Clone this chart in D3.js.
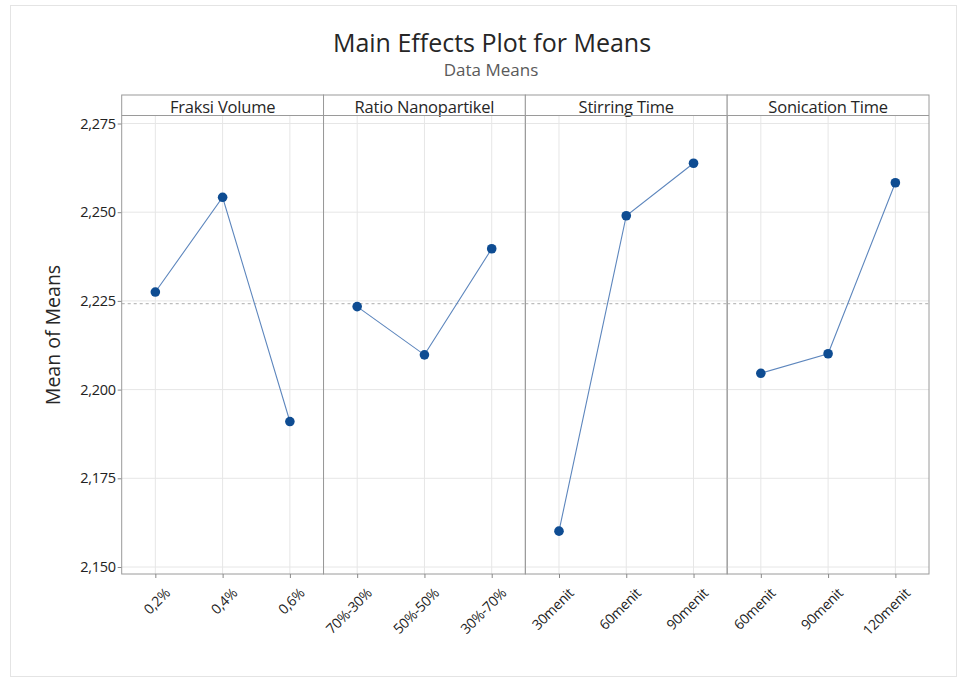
<!DOCTYPE html>
<html>
<head>
<meta charset="utf-8">
<script src="https://cdn.jsdelivr.net/npm/d3@7"></script>
<style>
  html, body { margin: 0; padding: 0; background: #fff; }
  svg { display: block; font-family: "Open Sans", "Noto Sans", sans-serif; }
</style>
</head>
<body>
<svg id="chart" width="965" height="682"></svg>
<script>
// Factors and their level labels
const factors = ["Fraksi Volume", "Ratio Nanopartikel", "Stirring Time", "Sonication Time"];
const fraksiLevels = ["0,2%", "0,4%", "0,6%"];
const ratioLevels = ["70%-30%", "50%-50%", "30%-70%"];
const stirringLevels = ["30menit", "60menit", "90menit"];
const sonicationLevels = ["60menit", "90menit", "120menit"];

// Mean of means per level
const fraksiMeans = [2.2275, 2.2542, 2.1910];
const ratioMeans = [2.2234, 2.2098, 2.2397];
const stirringMeans = [2.1601, 2.2490, 2.2638];
const sonicationMeans = [2.2046, 2.2101, 2.2583];

const yTicks = [2.150, 2.175, 2.200, 2.225, 2.250, 2.275];

const panels = [
  { name: factors[0], levels: fraksiLevels, means: fraksiMeans },
  { name: factors[1], levels: ratioLevels, means: ratioMeans },
  { name: factors[2], levels: stirringLevels, means: stirringMeans },
  { name: factors[3], levels: sonicationLevels, means: sonicationMeans }
];

// Grand mean across all observations (reference line)
const grandMean = d3.mean(fraksiMeans);

const svg = d3.select("#chart");

const plot = { left: 121.7, right: 929, top: 95, strip: 115.5, bottom: 574 };

// Outer frame
svg.append("rect")
  .attr("x", 10.5).attr("y", 5.5)
  .attr("width", 946).attr("height", 671)
  .attr("fill", "#fff").attr("stroke", "#e4e4e4");

// Titles
svg.append("text")
  .attr("x", 492).attr("y", 52)
  .attr("text-anchor", "middle")
  .attr("font-size", 25).attr("fill", "#262626")
  .text("Main Effects Plot for Means");
svg.append("text")
  .attr("x", 491).attr("y", 76)
  .attr("text-anchor", "middle")
  .attr("font-size", 17).attr("fill", "#5a5a5a")
  .text("Data Means");

const y = d3.scaleLinear().domain([2.150, 2.275]).range([567, 123.5]);

const panelScale = d3.scaleBand()
  .domain(factors)
  .range([plot.left, plot.right])
  .paddingInner(0).paddingOuter(0);

// Y axis label
svg.append("text")
  .attr("transform", `translate(60,335) rotate(-90)`)
  .attr("text-anchor", "middle")
  .attr("font-size", 19.5).attr("fill", "#262626")
  .text("Mean of Means");

// Y axis ticks and labels
const yAxis = d3.axisLeft(y)
  .tickValues(yTicks)
  .tickSize(4)
  .tickFormat(d => d3.format(",.3f")(d).replace(".", ","));
const yg = svg.append("g")
  .attr("transform", `translate(${plot.left},0)`)
  .call(yAxis);
yg.select(".domain").remove();
yg.selectAll(".tick line").attr("stroke", "#888");
yg.selectAll(".tick text")
  .attr("font-size", 14.5).attr("fill", "#222")
  .attr("font-family", "Open Sans, sans-serif")
  .attr("letter-spacing", "-0.3")
  .attr("x", -6);

const line = d3.line();

panels.forEach(p => {
  const x0 = panelScale(p.name);
  const w = panelScale.bandwidth();
  const x = d3.scalePoint().domain(p.levels).range([x0, x0 + w]).padding(0.5);
  const g = svg.append("g");

  // horizontal gridlines
  g.selectAll("line.hg").data(yTicks).enter().append("line")
    .attr("x1", x0).attr("x2", x0 + w)
    .attr("y1", d => y(d)).attr("y2", d => y(d))
    .attr("stroke", "#e6e6e6").attr("stroke-width", 1);

  // vertical gridlines at each level
  g.selectAll("line.vg").data(p.levels).enter().append("line")
    .attr("x1", d => x(d)).attr("x2", d => x(d))
    .attr("y1", plot.strip).attr("y2", plot.bottom)
    .attr("stroke", "#e6e6e6").attr("stroke-width", 1);

  // grand mean reference line
  g.append("line")
    .attr("x1", x0).attr("x2", x0 + w)
    .attr("y1", y(grandMean)).attr("y2", y(grandMean))
    .attr("stroke", "#bdbdbd").attr("stroke-width", 1.2)
    .attr("stroke-dasharray", "3,3");

  // strip header
  g.append("rect")
    .attr("x", x0).attr("y", plot.top)
    .attr("width", w).attr("height", plot.strip - plot.top)
    .attr("fill", "#fff");
  g.append("text")
    .attr("x", x0 + w / 2).attr("y", plot.strip - 3)
    .attr("text-anchor", "middle")
    .attr("font-size", 16.5).attr("fill", "#262626")
    .attr("letter-spacing", "-0.2")
    .text(p.name);
  g.append("line")
    .attr("x1", x0).attr("x2", x0 + w)
    .attr("y1", plot.strip).attr("y2", plot.strip)
    .attr("stroke", "#9a9a9a");

  // panel border
  g.append("rect")
    .attr("x", x0).attr("y", plot.top)
    .attr("width", w).attr("height", plot.bottom - plot.top)
    .attr("fill", "none").attr("stroke", "#9a9a9a");

  // x axis ticks and rotated labels
  const xAxis = d3.axisBottom(x).tickSize(4).tickPadding(4);
  const xg = g.append("g")
    .attr("transform", `translate(0,${plot.bottom})`)
    .call(xAxis);
  xg.select(".domain").remove();
  xg.selectAll(".tick line").attr("stroke", "#888");
  xg.selectAll(".tick text")
    .attr("font-size", 14).attr("fill", "#222")
    .attr("font-family", "Open Sans, sans-serif")
    .attr("letter-spacing", "-0.3")
    .attr("text-anchor", "end")
    .attr("dy", "0.35em")
    .attr("transform", "translate(6,11) rotate(-45)");

  // effect line
  const pts = p.levels.map((l, i) => [x(l), y(p.means[i])]);
  g.append("path")
    .attr("d", line(pts))
    .attr("fill", "none")
    .attr("stroke", "#5d86bd")
    .attr("stroke-width", 1.1);

  // level means
  g.selectAll("circle").data(pts).enter().append("circle")
    .attr("cx", d => d[0]).attr("cy", d => d[1])
    .attr("r", 4.8)
    .attr("fill", "#0e4c92");
});
</script>
</body>
</html>
